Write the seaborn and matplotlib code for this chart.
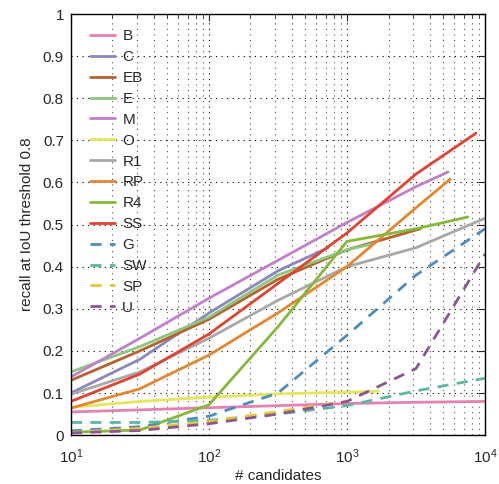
import numpy as np
import pandas as pd
import matplotlib
matplotlib.use("Agg")
import matplotlib.pyplot as plt
import seaborn as sns
from matplotlib.ticker import LogLocator, NullFormatter

# candidates (x) and recall values
methods = ['B', 'C', 'EB', 'E', 'M', 'O', 'R1', 'RP', 'R4', 'SS', 'G', 'SW', 'SP', 'U']

x_B = [10, 31.6, 100, 316, 1000, 3162, 10000]
y_B = [0.055, 0.060, 0.065, 0.070, 0.075, 0.078, 0.080]
x_C = [10, 31.6, 100, 316, 730]
y_C = [0.100, 0.180, 0.290, 0.390, 0.445]
x_EB = [10, 31.6, 100, 316, 1000, 3400]
y_EB = [0.130, 0.200, 0.275, 0.370, 0.440, 0.490]
x_E = [10, 31.6, 100, 316, 1000, 1600]
y_E = [0.150, 0.210, 0.280, 0.380, 0.440, 0.456]
x_M = [10, 31.6, 100, 316, 1000, 3162, 5400]
y_M = [0.138, 0.230, 0.325, 0.415, 0.505, 0.590, 0.625]
x_O = [10, 31.6, 100, 316, 1000, 1700]
y_O = [0.066, 0.080, 0.090, 0.098, 0.102, 0.104]
x_R1 = [10, 31.6, 100, 316, 1000, 3162, 10000]
y_R1 = [0.097, 0.150, 0.230, 0.320, 0.400, 0.445, 0.515]
x_RP = [10, 31.6, 100, 316, 1000, 3162, 5600]
y_RP = [0.064, 0.110, 0.190, 0.290, 0.400, 0.540, 0.608]
x_R4 = [10, 31.6, 100, 316, 1000, 3162, 7500]
y_R4 = [0.007, 0.012, 0.072, 0.257, 0.460, 0.490, 0.518]
x_SS = [10, 31.6, 100, 316, 1000, 3162, 8600]
y_SS = [0.080, 0.145, 0.240, 0.360, 0.480, 0.620, 0.717]
x_G = [10, 31.6, 100, 316, 1000, 3162, 10000]
y_G = [0.010, 0.020, 0.045, 0.100, 0.237, 0.380, 0.490]
x_SW = [10, 31.6, 100, 316, 1000, 3162, 10000]
y_SW = [0.030, 0.030, 0.035, 0.050, 0.070, 0.105, 0.135]
x_SP = [10, 31.6, 100, 316, 1000]
y_SP = [0.006, 0.016, 0.032, 0.056, 0.080]
x_U = [10, 31.6, 100, 316, 1000, 3162, 10000]
y_U = [0.005, 0.011, 0.027, 0.050, 0.080, 0.158, 0.430]

colors = ['#e87fb3', '#8a88c0', '#b8612e', '#8cc77e', '#c27fcb', '#e6e65a', '#a8a8a8',
          '#e6862e', '#86b83a', '#e0432f', '#4e8cbc', '#5cb6a4', '#e8c830', '#8e5498']
dashed = ['G', 'SW', 'SP', 'U']

sns.set_style("white")
plt.rcParams['font.family'] = ['Liberation Sans', 'DejaVu Sans']

fig = plt.figure(figsize=(4.99, 4.84), dpi=100)
ax = fig.add_axes([0.142, 0.101, 0.830, 0.870])

g = globals()
for m, c in zip(methods, colors):
    df = pd.DataFrame({'n': g['x_' + m], 'recall': g['y_' + m]})
    sns.lineplot(data=df, x='n', y='recall', ax=ax, color=c, linewidth=2,
                 linestyle=(0, (4, 3)) if m in dashed else '-', label=m,
                 estimator=None, sort=False)

ax.set_xscale('log')
ax.set_xlim(10, 10000)
ax.set_ylim(0, 1)
ax.set_yticks(np.arange(0, 1.01, 0.1))
ax.set_yticklabels(['0'] + [f'{v:.1f}' for v in np.arange(0.1, 0.95, 0.1)] + ['1'])
ax.xaxis.set_minor_locator(LogLocator(base=10, subs=np.arange(2, 10)))
ax.xaxis.set_minor_formatter(NullFormatter())

ax.grid(True, which='major', axis='both', color='black', linestyle=(0, (1, 4)), linewidth=0.8)
ax.grid(True, which='minor', axis='x', color='#555555', linestyle=(0, (1, 4)), linewidth=0.8)
ax.tick_params(which='both', direction='in', top=True, right=True, labelsize=11)
ax.tick_params(which='major', length=5)
ax.tick_params(which='minor', length=3)
ax.tick_params(axis='x', which='major', pad=9)
ax.tick_params(axis='y', which='major', pad=5)
for s in ax.spines.values():
    s.set_color('black')
    s.set_linewidth(1.0)

ax.set_xlabel('# candidates', fontsize=11, labelpad=2)
ax.set_ylabel('recall at IoU threshold 0.8', fontsize=11, labelpad=6)

ax.legend(loc='upper left', frameon=False, fontsize=11, handlelength=1.6,
          labelspacing=0.45, handletextpad=0.5, borderaxespad=0.6,
          bbox_to_anchor=(0.01, 1.0))

fig.savefig('out.png', dpi=100)
